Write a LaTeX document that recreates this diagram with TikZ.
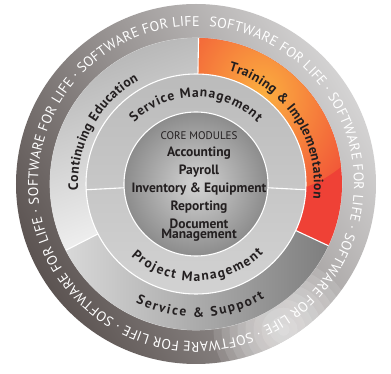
\documentclass[tikz,border=0pt]{standalone}
\usepackage{fontspec}
\setmainfont{PT Sans}
\usetikzlibrary{decorations.text}

\definecolor{rimdark}{HTML}{5C5452}
\definecolor{rimlight}{HTML}{D4D3D3}
\definecolor{edulight}{HTML}{F4F4F4}
\definecolor{edudark}{HTML}{B4B4B4}
\definecolor{supportlight}{HTML}{D8D8D8}
\definecolor{supportdark}{HTML}{7E7E7E}
\definecolor{trainhi}{HTML}{FBAF40}
\definecolor{trainlo}{HTML}{EF4136}
\definecolor{midtop}{HTML}{BBBBBB}
\definecolor{midlight}{HTML}{F0F0F0}
\definecolor{midbottom}{HTML}{D2D2D2}
\definecolor{corelight}{HTML}{D4D4D4}
\definecolor{coredark}{HTML}{8C8C8C}
\definecolor{ink}{HTML}{231F20}

\tikzset{
  sep/.style = {white, line width=1.1pt},
  glow/.style = {white, opacity=.12},
  ringlabel/.style = {decorate, decoration={text along path, text align=fit to path,
      text={|\color{ink}\bfseries\fontsize{13.5}{16}\selectfont|#1}}},
  rimlabel/.style = {decorate, decoration={text along path, text align=fit to path,
      text={|\color{white}\fontsize{14}{16}\selectfont|#1}}}
}

\begin{document}
\begin{tikzpicture}
  \useasboundingbox (-196pt,-190pt) rectangle (195pt,184pt);

  % outer rim
  \shade[even odd rule, bottom color=rimdark, top color=rimlight, shading angle=-60]
    (0,0) circle (180pt) (0,0) circle (146pt);
  \begin{scope}[even odd rule]
    \clip (0,0) circle (180pt) (0,0) circle (146pt);
    \foreach \r in {70,62,...,6}
      \fill[glow] (-59:170pt) circle (\r pt);
  \end{scope}
  \draw[white!75!gray, line width=.6pt] (0,0) circle (146pt);

  % middle ring
  \shade[top color=edudark, bottom color=edulight, shading angle=20]
    (89:146pt) arc[start angle=89, end angle=207, radius=146pt]
    -- (207:110pt) arc[start angle=207, end angle=89, radius=110pt] -- cycle;
  \fill[trainlo, path picture={\shade[inner color=trainhi, outer color=trainlo] (66pt,114pt) circle (125pt);}]
    (89:146pt) arc[start angle=89, end angle=-25, radius=146pt]
    -- (-25:110pt) arc[start angle=-25, end angle=89, radius=110pt] -- cycle;
  \shade[left color=supportlight, right color=supportdark]
    (-25:146pt) arc[start angle=-25, end angle=-153, radius=146pt]
    -- (-153:110pt) arc[start angle=-153, end angle=-25, radius=110pt] -- cycle;

  % inner ring and core
  \shade[even odd rule, top color=midtop, middle color=midlight, bottom color=midbottom]
    (0,0) circle (110pt) (0,0) circle (72pt);
  \shade[inner color=corelight, outer color=coredark] (0,0) circle (72pt);

  \draw[sep] (0,0) circle (110pt) (0,0) circle (72pt);
  \draw[sep] (89:110pt) -- (89:146pt) (-25:110pt) -- (-25:146pt) (207:110pt) -- (207:146pt);
  \draw[sep] (-3:72pt) -- (-3:110pt) (183:72pt) -- (183:110pt);

  % labels
  \path[ringlabel=Continuing Education] (183:118pt) arc[start angle=183, end angle=119, radius=118pt];
  \path[ringlabel=Training {\&} Implementation] (74:118pt) arc[start angle=74, end angle=-7, radius=118pt];
  \path[ringlabel=Service Management] (135:87pt) arc[start angle=135, end angle=45, radius=87pt];
  \path[ringlabel=Project Management] (228:97pt) arc[start angle=228, end angle=314, radius=97pt];
  \path[ringlabel=Service {\&} Support] (243:133pt) arc[start angle=243, end angle=301, radius=133pt];
  \path[rimlabel=SOFTWARE FOR LIFE · SOFTWARE FOR LIFE · SOFTWARE FOR LIFE · SOFTWARE FOR LIFE · SOFTWARE FOR LIFE · SOFTWARE FOR LIFE · SOFTWARE FOR LIFE]
    (85.25:158pt) arc[start angle=85.25, end angle=-271.25, radius=158pt];

  \node[align=center, text=ink, font=\fontsize{13.5}{17.8}\selectfont\bfseries] (modules) at (3pt,-2.5pt)
    {{\mdseries\fontsize{11}{17.8}\selectfont CORE MODULES}\\Accounting\\Payroll\\Inventory \& Equipment\\Reporting\\Document\\[-7pt]Management};
\end{tikzpicture}
\end{document}
